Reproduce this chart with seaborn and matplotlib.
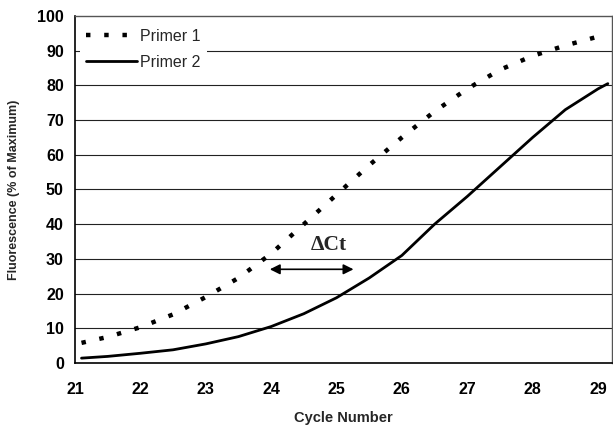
import matplotlib
matplotlib.use("Agg")
import matplotlib.pyplot as plt
import seaborn as sns

# values
primer1_cycle = [21.1, 21.5, 22, 22.5, 23, 23.5, 24, 24.5, 25, 25.5, 26, 26.5, 27, 27.5, 28, 28.5, 28.95]
primer1_fluor = [5.8, 7.5, 10.3, 14, 19, 24.5, 31.5, 40, 48.5, 57, 65, 72.5, 79, 84.5, 88.5, 91.5, 93.8]

primer2_cycle = [21.1, 21.5, 22, 22.5, 23, 23.5, 24, 24.5, 25, 25.5, 26, 26.5, 27, 27.5, 28, 28.5, 29, 29.15]
primer2_fluor = [1.4, 1.9, 2.8, 3.8, 5.5, 7.6, 10.5, 14.2, 18.8, 24.5, 31, 40, 48, 56.5, 65, 73, 79, 80.5]

x_ticks = [21, 22, 23, 24, 25, 26, 27, 28, 29]
y_ticks = [0, 10, 20, 30, 40, 50, 60, 70, 80, 90, 100]

sns.set_style("white")
plt.rcParams["font.family"] = ["Liberation Sans", "DejaVu Sans"]

fig = plt.figure(figsize=(6.13, 4.25), dpi=100)
ax = fig.add_axes([0.1223, 0.1459, 0.8757, 0.8165])

for y in y_ticks[1:-1]:
    ax.axhline(y, color="#222222", lw=0.8, zorder=0)

sns.lineplot(x=primer1_cycle, y=primer1_fluor, ax=ax, color="black", lw=3.2,
             linestyle=(0, (1.0, 3.1)), label="Primer 1")
sns.lineplot(x=primer2_cycle, y=primer2_fluor, ax=ax, color="black", lw=2.0,
             label="Primer 2")

# delta Ct arrow
ax.annotate("", xy=(23.98, 27), xytext=(25.26, 27),
            arrowprops=dict(arrowstyle="<|-|>", color="black", lw=1.2,
                            mutation_scale=15, shrinkA=0, shrinkB=0))
ax.text(24.88, 33.9, "\u0394Ct", ha="center", va="center", fontsize=15.5,
        fontweight="bold", family=["Liberation Serif", "DejaVu Serif"])

ax.set_xlim(21, 29.21)
ax.set_ylim(0, 100)
ax.set_xticks(x_ticks)
ax.set_yticks(y_ticks)
ax.tick_params(axis="both", direction="out", length=5, width=1, colors="black",
               labelsize=11.5, pad=3)
ax.tick_params(axis="x", pad=9)
for lab in ax.get_xticklabels() + ax.get_yticklabels():
    lab.set_fontweight("bold")

ax.set_xlabel("Cycle Number", fontsize=10.5, fontweight="bold", labelpad=10)
ax.set_ylabel("Fluorescence (% of Maximum)", fontsize=9, fontweight="bold", labelpad=12)

for side in ["left", "bottom"]:
    ax.spines[side].set_color("black")
    ax.spines[side].set_linewidth(1.2)
for side in ["top", "right"]:
    ax.spines[side].set_color("#555555")
    ax.spines[side].set_linewidth(1.0)

leg = ax.legend(loc="upper left", frameon=True, fontsize=11.5, handlelength=3.2,
                handletextpad=0.15, borderaxespad=0.3, labelspacing=0.7,
                bbox_to_anchor=(0.0, 0.995))
leg.get_frame().set_facecolor("white")
leg.get_frame().set_edgecolor("none")
leg.get_frame().set_alpha(1)

fig.savefig("out.png", dpi=100)
